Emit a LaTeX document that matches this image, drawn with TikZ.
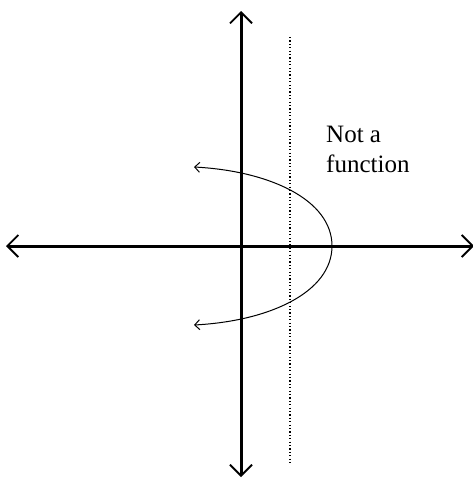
\documentclass[tikz,border=0pt]{standalone}
\usepackage{fontspec}
\setmainfont{Liberation Serif}
\usetikzlibrary{arrows.meta}
\begin{document}
\begin{tikzpicture}[x=1pt,y=-1pt,
  axis/.style={line width=3pt,{Straight Barb[length=11pt,width=22pt,line width=1.8pt]}-{Straight Barb[length=11pt,width=22pt,line width=1.8pt]}},
  curve/.style={line width=1pt,{Straight Barb[length=5pt,width=10pt,line width=1pt]}-{Straight Barb[length=5pt,width=10pt,line width=1pt]}},
  vline/.style={line width=1.2pt,dash pattern=on 1.2pt off 2.2pt},
  lbl/.style={font=\fontsize{25}{29}\selectfont,anchor=base west,inner sep=0pt}]
\useasboundingbox (0,0) rectangle (472,479);
\coordinate (top) at (241,11);
\coordinate (bot) at (241,477);
\coordinate (left) at (6,246);
\coordinate (right) at (474,246);
\coordinate (dtop) at (290,37);
\coordinate (dbot) at (290,463);
\coordinate (p1) at (194,167);
\coordinate (v) at (332,246);
\coordinate (p2) at (194,325);
\draw[axis] (bot) -- (top);
\draw[axis] (left) -- (right);
\draw[vline] (dtop) -- (dbot);
\draw[curve] (p1) .. controls (270,171) and (332,200) .. (v)
  .. controls (332,292) and (270,321) .. (p2);
\node[lbl] (t1) at (326,142) {Not a};
\node[lbl] (t2) at (326,172) {function};
\end{tikzpicture}
\end{document}
